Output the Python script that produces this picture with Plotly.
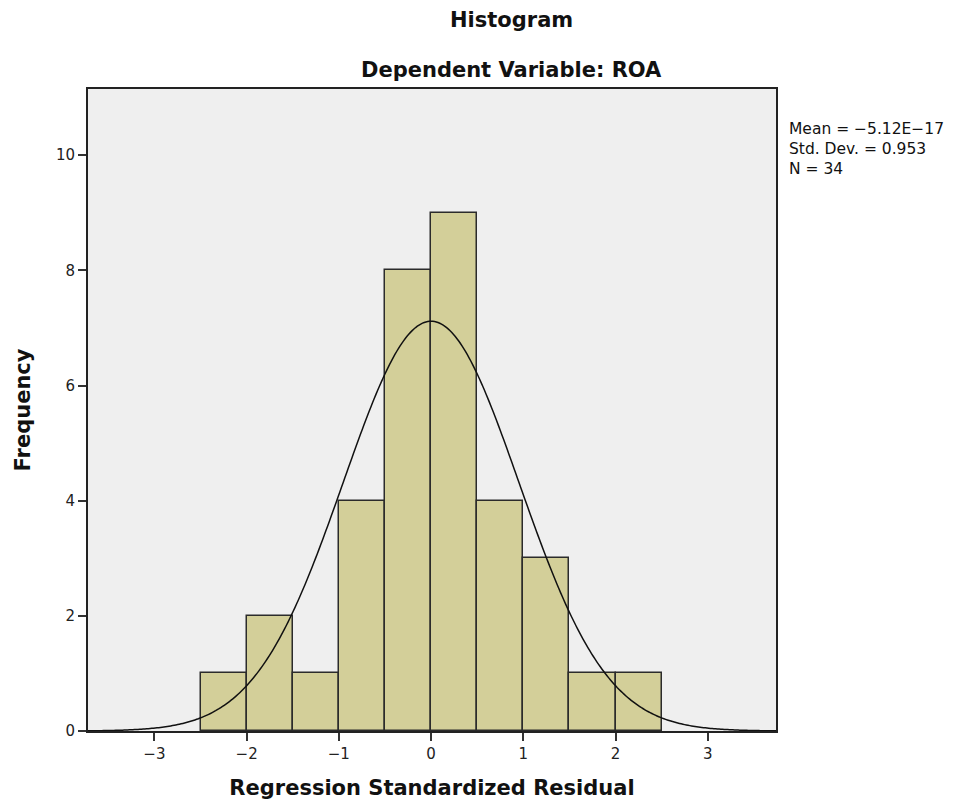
import numpy as np
import plotly.graph_objects as go

bin_left = [-2.5, -2.0, -1.5, -1.0, -0.5, 0.0, 0.5, 1.0, 1.5, 2.0]
counts = [1, 2, 1, 4, 8, 9, 4, 3, 1, 1]
bin_width = 0.5
mean = -5.12e-17
std = 0.953
n = 34
x_ticks = [-3, -2, -1, 0, 1, 2, 3]
y_ticks = [0, 2, 4, 6, 8, 10]

centers = [b + bin_width / 2 for b in bin_left]

xr = [-3.72, 3.74]
xs = np.linspace(xr[0], xr[1], 400)
ys = n * bin_width / (std * np.sqrt(2 * np.pi)) * np.exp(-0.5 * ((xs - mean) / std) ** 2)

fig = go.Figure()
fig.add_trace(go.Bar(
    x=centers, y=counts, width=bin_width,
    marker=dict(color="#D3CF99", line=dict(color="#2b2b2b", width=1.5)),
    hoverinfo="skip",
))
fig.add_trace(go.Scatter(
    x=xs, y=ys, mode="lines", line=dict(color="#111111", width=1.5, simplify=False),
    hoverinfo="skip",
))

font_family = "DejaVu Sans, Liberation Sans, sans-serif"

fig.update_layout(
    width=957, height=809,
    margin=dict(l=88, r=181, t=89, b=78),
    paper_bgcolor="white",
    plot_bgcolor="#EFEFEF",
    showlegend=False,
    bargap=0,
    font=dict(family=font_family, color="#111111"),
    xaxis=dict(
        range=xr, tickvals=x_ticks, ticks="outside", ticklen=8, tickwidth=1.5,
        tickcolor="#333333", showgrid=False, zeroline=False,
        showline=True, linecolor="#222222", linewidth=2, mirror=True,
        tickfont=dict(size=15, color="#222222"),
        title=dict(text="<b>Regression Standardized Residual</b>", font=dict(size=21, color="#111111"), standoff=18),
    ),
    yaxis=dict(
        range=[0, 11.15], tickvals=y_ticks, ticks="outside", ticklen=8, tickwidth=1.5,
        tickcolor="#333333", showgrid=False, zeroline=False,
        showline=True, linecolor="#222222", linewidth=2, mirror=True,
        tickfont=dict(size=15, color="#222222"),
        title=dict(text="<b>Frequency</b>", font=dict(size=21, color="#111111"), standoff=20),
    ),
    annotations=[
        dict(text="<b>Histogram</b>", x=0.616, y=1.1075, xref="paper", yref="paper",
             showarrow=False, font=dict(size=21, color="#111111"), xanchor="center", yanchor="middle"),
        dict(text="<b>Dependent Variable: ROA</b>", x=0.616, y=1.0296, xref="paper", yref="paper",
             showarrow=False, font=dict(size=21, color="#111111"), xanchor="center", yanchor="middle"),
        dict(text="Mean = −5.12E−17<br>Std. Dev. = 0.953<br>N = 34", x=1.016, y=0.955,
             xref="paper", yref="paper", showarrow=False, align="left",
             xanchor="left", yanchor="top", font=dict(size=15.5, color="#111111")),
    ],
)

fig.write_html("out.html")
